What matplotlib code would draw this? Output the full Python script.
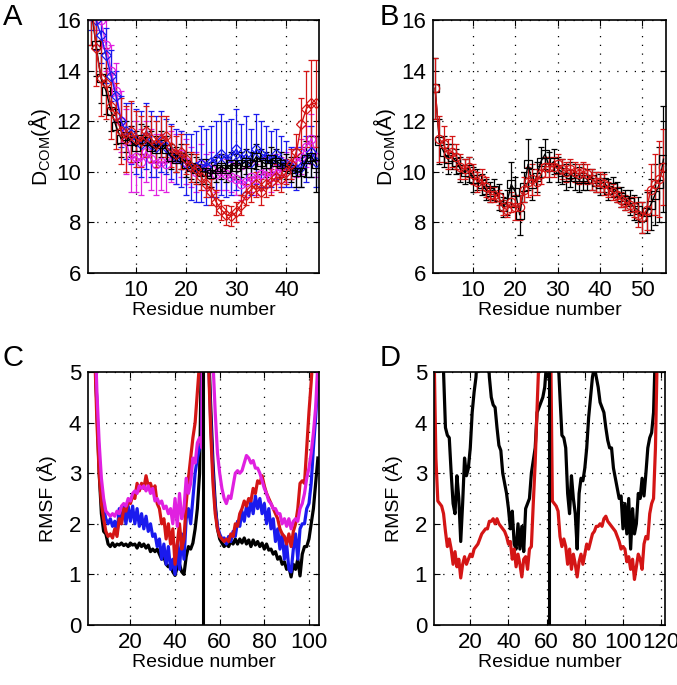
import numpy as np
import matplotlib
matplotlib.use("Agg")
import matplotlib.pyplot as plt

plt.rcParams.update({
    "font.family": ["Liberation Sans", "DejaVu Sans"],
    "mathtext.fontset": "custom",
    "mathtext.rm": "Liberation Sans",
    "font.size": 14,
    "axes.linewidth": 1.2,
})

RED, BLUE, MAG, BLK = "#d41515", "#1a1aee", "#e020e0", "black"

# ---- panel A: D_COM per residue, four runs (mean, err)
a_black = [16.5, 15.0, 13.7, 13.2, 12.4, 11.8, 11.3, 11.4, 11.2, 11.0,
           11.3, 11.2, 11.0, 10.9, 11.1, 10.9, 10.6, 10.5, 10.6, 10.3,
           10.2, 10.1, 10.0, 10.0, 9.9, 10.1, 10.2, 10.1, 10.3, 10.2,
           10.3, 10.4, 10.3, 10.6, 10.4, 10.3, 10.5, 10.4, 10.3, 10.2,
           10.1, 10.0, 10.0, 10.5, 10.6, 10.3]
a_black_err = [1.5, 1.2, 1.0, 0.9, 0.8, 0.7, 0.7, 0.6, 0.6, 0.6,
               0.6, 0.6, 0.6, 0.5, 0.5, 0.5, 0.5, 0.5, 0.5, 0.5,
               0.5, 0.5, 0.5, 0.5, 0.5, 0.5, 0.5, 0.5, 0.5, 0.5,
               0.5, 0.5, 0.5, 0.5, 0.5, 0.5, 0.5, 0.5, 0.5, 0.5,
               0.5, 0.6, 0.6, 0.7, 0.8, 1.1]
a_blue = [16.8, 16.0, 15.4, 14.6, 13.8, 13.0, 12.0, 11.6, 11.5, 11.2,
          11.1, 11.4, 11.1, 11.0, 11.2, 11.0, 10.8, 10.6, 10.5, 10.3,
          10.2, 10.2, 10.3, 10.2, 10.4, 10.5, 10.7, 10.5, 10.6, 10.9,
          10.5, 10.7, 10.4, 10.9, 10.7, 10.6, 10.5, 10.7, 10.4, 10.3,
          10.2, 10.1, 10.2, 10.5, 10.8, 10.4]
a_blue_err = [1.2, 1.2, 1.1, 1.1, 1.0, 1.0, 1.0, 1.1, 1.2, 1.3,
              1.3, 1.3, 1.3, 1.2, 1.2, 1.1, 1.1, 1.1, 1.1, 1.2,
              1.3, 1.4, 1.5, 1.5, 1.4, 1.5, 1.6, 1.5, 1.5, 1.6,
              1.4, 1.5, 1.3, 1.4, 1.3, 1.2, 1.1, 1.0, 1.0, 0.9,
              0.8, 0.8, 0.8, 0.9, 1.0, 1.0]
a_mag = [17.0, 16.6, 16.0, 15.0, 14.0, 13.2, 12.0, 11.2, 10.5, 10.6,
         10.4, 10.8, 10.5, 10.3, 10.4, 10.3, 10.6, 10.5, 10.7, 10.4,
         10.2, 10.0, 10.3, 10.0, 10.1, 9.9, 10.0, 9.9, 9.8, 9.7,
         9.5, 9.6, 9.8, 9.7, 9.9, 10.0, 9.8, 10.1, 10.0, 10.2,
         10.3, 10.4, 10.6, 11.0, 11.3, 10.6]
a_mag_err = [1.0, 1.0, 1.0, 1.0, 1.0, 1.1, 1.2, 1.3, 1.3, 1.4,
             1.3, 1.2, 1.2, 1.2, 1.1, 1.1, 1.0, 1.0, 0.9, 0.9,
             0.8, 0.8, 0.8, 0.7, 0.7, 0.7, 0.7, 0.6, 0.6, 0.6,
             0.6, 0.6, 0.6, 0.6, 0.6, 0.6, 0.6, 0.6, 0.6, 0.6,
             0.6, 0.6, 0.7, 0.8, 1.0, 0.8]
a_red = [17.0, 14.9, 13.7, 13.5, 12.6, 12.2, 11.6, 11.3, 11.6, 11.3,
         11.2, 11.6, 11.3, 11.1, 11.3, 11.4, 11.0, 10.7, 10.8, 10.5,
         10.2, 10.1, 9.8, 9.5, 9.2, 8.8, 8.5, 8.3, 8.25, 8.4,
         8.7, 9.1, 9.3, 9.5, 9.2, 9.5, 9.6, 9.8, 9.7, 10.0,
         10.3, 10.8, 11.9, 12.5, 12.7, 12.7]
a_red_err = [2.0, 1.5, 1.5, 1.4, 1.3, 1.3, 1.3, 1.3, 1.2, 1.1,
             1.0, 1.0, 0.9, 0.9, 0.9, 0.8, 0.8, 0.7, 0.7, 0.6,
             0.6, 0.6, 0.5, 0.5, 0.5, 0.5, 0.4, 0.4, 0.4, 0.4,
             0.4, 0.4, 0.5, 0.5, 0.5, 0.5, 0.5, 0.5, 0.5, 0.5,
             0.6, 0.7, 1.0, 1.5, 1.7, 1.7]

# ---- panel B: two runs
b_black = [13.3, 11.2, 10.8, 10.5, 10.6, 10.4, 10.1, 10.0, 10.1, 9.7,
           9.7, 9.5, 9.3, 9.2, 9.3, 9.0, 8.6, 8.8, 9.5, 9.2,
           8.3, 9.4, 10.3, 9.5, 9.8, 10.4, 10.7, 10.2, 10.4, 10.1,
           10.0, 9.8, 9.9, 9.8, 9.7, 9.8, 9.7, 9.7, 9.6, 9.5,
           9.6, 9.3, 9.4, 9.2, 9.0, 8.9, 8.8, 8.6, 8.5, 8.2,
           8.4, 8.7, 9.1, 9.5, 10.5]
b_black_err = [1.2, 0.9, 0.6, 0.6, 0.5, 0.5, 0.5, 0.5, 0.5, 0.5,
               0.4, 0.4, 0.4, 0.4, 0.4, 0.5, 0.4, 0.5, 0.9, 0.6,
               0.8, 0.6, 1.0, 0.6, 0.6, 0.6, 0.6, 0.6, 0.5, 0.5,
               0.5, 0.5, 0.5, 0.5, 0.5, 0.5, 0.4, 0.4, 0.4, 0.4,
               0.4, 0.4, 0.4, 0.4, 0.4, 0.4, 0.5, 0.5, 0.5, 0.6,
               0.8, 1.0, 1.2, 1.5, 2.1]
b_red = [13.3, 11.3, 11.1, 10.7, 10.8, 10.6, 10.2, 10.1, 10.2, 9.9,
         9.6, 9.7, 9.4, 9.1, 9.1, 9.0, 8.6, 8.5, 8.8, 8.6,
         8.6, 9.3, 9.6, 9.7, 9.6, 9.9, 10.2, 10.2, 10.2, 10.3,
         10.1, 10.0, 10.1, 10.0, 9.9, 10.0, 9.9, 9.7, 9.6, 9.6,
         9.5, 9.3, 9.2, 9.1, 8.9, 8.8, 8.7, 8.6, 8.3, 8.2,
         8.5, 9.3, 9.5, 9.7, 10.2]
b_red_err = [1.2, 0.9, 0.7, 0.6, 0.6, 0.5, 0.5, 0.4, 0.4, 0.4,
             0.4, 0.4, 0.4, 0.3, 0.3, 0.3, 0.3, 0.3, 0.4, 0.5,
             0.5, 0.5, 0.6, 0.6, 0.5, 0.4, 0.4, 0.4, 0.4, 0.4,
             0.4, 0.4, 0.4, 0.4, 0.4, 0.4, 0.4, 0.4, 0.4, 0.4,
             0.4, 0.3, 0.3, 0.3, 0.3, 0.3, 0.3, 0.4, 0.5, 0.6,
             0.8, 1.0, 1.2, 1.5, 1.5]

# ---- panel C: RMSF, two chains of 52 residues
c_black = [12, 9, 7, 5.6, 4.3, 3.0, 2.2, 1.85, 1.8, 1.6,
           1.55, 1.62, 1.55, 1.6, 1.58, 1.62, 1.57, 1.6, 1.55, 1.62,
           1.58, 1.6, 1.52, 1.62, 1.55, 1.6, 1.52, 1.58, 1.45, 1.5,
           1.45, 1.5, 1.4, 1.3, 1.35, 1.2, 1.15, 1.2, 1.05, 0.98,
           1.15, 1.2, 1.05, 1.0, 1.35, 1.55, 1.5, 1.62, 1.9, 2.3,
           3.0, 6.0,
           9, 7, 5.5, 4.3, 3.2, 2.4, 1.9, 1.7, 1.62, 1.55,
           1.6, 1.55, 1.65, 1.6, 1.7, 1.6, 1.7, 1.62, 1.72, 1.6,
           1.68, 1.55, 1.68, 1.58, 1.65, 1.55, 1.62, 1.5, 1.6, 1.48,
           1.5, 1.4, 1.45, 1.3, 1.35, 1.2, 1.25, 1.1, 1.15, 0.95,
           1.2, 1.1, 1.3, 0.97, 1.4, 1.55, 1.55, 1.7, 2.0, 2.3,
           2.8, 3.3]
c_blue = [12, 9, 7, 5.5, 4.3, 3.3, 2.6, 2.3, 2.1, 2.0,
          2.1, 1.95, 2.05, 1.8, 2.3, 2.0, 2.35, 2.0, 2.35, 2.05,
          2.35, 2.0, 2.3, 1.95, 2.2, 1.9, 2.15, 1.85, 2.0, 1.75,
          1.8, 1.55, 1.7, 1.3, 1.6, 1.2, 1.55, 1.1, 1.3, 1.0,
          1.6, 1.1, 1.8, 1.3, 2.1, 2.3, 2.0, 2.5, 3.0, 3.3,
          3.5, 3.6,
          9, 7, 5.3, 4.0, 3.0, 2.3, 1.95, 1.8, 1.7, 1.72,
          1.6, 1.75, 1.65, 1.85, 1.75, 2.05, 1.95, 2.25, 2.05, 2.35,
          2.15, 2.45, 2.2, 2.55, 2.3, 2.5, 2.2, 2.4, 2.0, 2.3,
          1.9, 2.1, 1.65, 1.9, 1.5, 1.8, 1.3, 1.6, 1.1, 1.05,
          1.5, 1.8, 1.3, 1.9, 2.0, 2.0, 2.3, 2.4, 2.8, 3.5,
          4.1, 4.8]
c_red = [12, 9, 7, 5.4, 4.0, 3.0, 2.4, 2.1, 1.85, 1.75,
         1.8, 1.72, 1.9, 1.75, 2.1, 2.0, 2.3, 2.25, 2.45, 2.4,
         2.55, 2.5, 2.8, 2.65, 2.8, 2.7, 2.95, 2.75, 2.8, 2.65,
         2.75, 2.4, 2.3, 2.0, 2.1, 1.7, 2.0, 1.6, 1.9, 1.2,
         1.6, 2.0, 1.5, 1.7, 2.4, 2.9, 3.3, 3.7, 4.0, 4.6,
         5.2, 6.0,
         9, 7, 5.2, 3.8, 2.8, 2.2, 1.9, 1.75, 1.7, 1.65,
         1.7, 1.65, 1.8, 1.75, 2.0, 1.95, 2.2, 2.3, 2.45, 2.35,
         2.5, 2.45, 2.7, 2.6, 2.85, 2.8, 2.95, 2.75, 2.6, 2.5,
         2.4, 2.3, 2.2, 2.1, 1.9, 1.8, 1.75, 1.6, 1.8, 1.55,
         1.85, 2.0, 2.3, 2.8, 2.85, 2.8, 3.5, 4.2, 4.8, 5.5,
         6.5, 8.0]
c_mag = [12, 10, 8, 6, 4.6, 3.6, 2.9, 2.5, 2.25, 2.2,
         2.15, 2.2, 2.15, 2.25, 2.2, 2.35, 2.4, 2.35, 2.5, 2.45,
         2.6, 2.65, 2.6, 2.75, 2.7, 2.75, 2.65, 2.75, 2.6, 2.7,
         2.45, 2.5, 2.4, 2.45, 2.3, 2.35, 2.2, 2.3, 2.0, 2.5,
         1.95, 2.6, 2.1, 2.3, 2.9, 2.6, 2.8, 3.3, 3.2, 3.6,
         3.7, 3.5,
         12, 10, 8, 6.5, 5.2, 4.2, 3.4, 3.0, 2.7, 2.5,
         2.4, 2.55, 2.5, 2.75, 3.0, 3.05, 3.0, 3.05, 3.2, 3.35,
         3.3, 3.2, 3.25, 3.1, 3.1, 3.0, 2.85, 2.7, 2.6, 2.45,
         2.4, 2.3, 2.3, 2.2, 2.2, 2.0, 2.1, 1.95, 2.1, 1.9,
         2.05, 2.1, 2.05, 2.3, 2.4, 2.6, 2.9, 3.1, 3.4, 3.8,
         4.3, 5.2]
c_split = 52.5

# ---- panel D: RMSF, two chains of 61 residues
d_black = [12, 10, 8.5, 7, 5.8, 5.0, 3.9, 3.75, 3.7, 3.0,
           2.4, 2.2, 2.95, 2.5, 1.65, 2.4, 3.3, 2.95, 3.1, 3.5,
           4.2, 4.6, 4.9, 5.6, 6.2, 6.5, 6.6, 6.2, 5.6, 4.9,
           4.5, 4.35, 4.3, 3.9, 3.55, 3.45, 3.0, 2.8, 2.6, 2.3,
           1.9, 2.25, 1.6, 1.5, 2.0, 1.5, 1.95, 1.45, 2.3, 2.4,
           2.5, 3.0, 3.25, 3.5, 4.2, 4.3, 4.4, 4.5, 4.7, 5.2,
           6.0,
           12, 10, 8, 6.5, 5.3, 4.5, 3.75, 3.7, 3.5, 2.6,
           2.2, 2.95, 2.5, 2.2, 1.5, 2.6, 2.9, 2.85, 3.1, 3.5,
           4.1, 4.5, 4.9, 5.1, 4.9, 4.7, 4.4, 4.3, 4.2, 3.9,
           3.65, 3.5, 3.5, 3.1, 2.9, 2.7, 2.5, 2.55, 1.9, 2.4,
           1.8, 2.5, 1.5, 2.3, 1.8, 2.0, 2.6, 2.5, 2.9, 2.55,
           3.0, 3.5, 3.7, 3.8, 4.2, 5.5, 7, 8.5, 10, 11,
           12]
d_red = [5.5, 3.3, 2.45, 2.4, 2.35, 2.2, 1.85, 1.55, 1.7, 1.5,
         1.2, 1.45, 1.15, 1.3, 0.93, 1.2, 1.35, 1.2, 1.3, 1.4,
         1.35, 1.5, 1.55, 1.6, 1.7, 1.8, 1.85, 1.9, 1.9, 2.05,
         2.05, 2.1, 2.0, 2.1, 2.0, 1.95, 1.9, 1.85, 1.75, 1.6,
         1.65, 1.3, 1.5, 1.15, 1.4, 1.2, 0.95, 1.3, 1.35, 1.1,
         1.5, 1.55, 2.4, 3.2, 4.3, 5.3, 6.5, 7.5, 8.5, 9.5,
         10.5,
         6, 2.45, 2.4, 2.35, 2.25, 1.75, 1.55, 1.7, 1.55, 1.2,
         1.5, 1.1, 1.4, 1.2, 0.95, 1.25, 1.4, 1.2, 1.4, 1.6,
         1.5, 1.65, 1.8, 1.85, 1.95, 1.95, 2.0, 1.95, 2.1, 2.15,
         2.05, 2.0, 1.95, 1.9, 1.85, 1.75, 1.65, 1.5, 1.55, 1.5,
         1.25, 1.35, 1.1, 1.3, 0.9, 1.15, 1.4, 1.3, 1.1, 1.6,
         1.75, 1.7, 2.2, 2.4, 2.5, 3.5, 5.5, 7, 8.5, 10,
         11]
d_split = 61


def res(y):
    return np.arange(1, len(y) + 1)


def style(ax, xlim, ylim, xticks, yticks):
    ax.set_xlim(*xlim); ax.set_ylim(*ylim)
    ax.set_xticks(xticks); ax.set_yticks(yticks)
    ax.grid(True, ls=(0, (1, 6)), color="k", lw=0.9)
    ax.tick_params(direction="in", length=4, width=0.8, top=True, right=True,
                   labelsize=16, pad=5)
    ax.set_xlabel("Residue number", fontsize=14, labelpad=1)


W, H = 677, 685
fig = plt.figure(figsize=(W / 100, H / 100), dpi=100)

def box(l, t, r, b):
    return [l / W, 1 - b / H, (r - l) / W, (b - t) / H]

axA = fig.add_axes(box(88, 20, 319, 273))
axB = fig.add_axes(box(433, 20, 666, 273))
axC = fig.add_axes(box(88, 372, 319, 625))
axD = fig.add_axes(box(434, 372, 665, 625))

eb = dict(mfc="none", ms=6, lw=1.0, elinewidth=0.9, capsize=2.2, capthick=0.9, mew=0.9)
axA.errorbar(res(a_mag), a_mag, yerr=a_mag_err, fmt="-o", color=MAG, **eb)
axA.errorbar(res(a_blue), a_blue, yerr=a_blue_err, fmt="-D", color=BLUE, **dict(eb, ms=5))
axA.errorbar(res(a_black), a_black, yerr=a_black_err, fmt="-s", color=BLK, **eb)
axA.errorbar(res(a_red), a_red, yerr=a_red_err, fmt="-D", color=RED, **dict(eb, ms=5.5))
style(axA, (0.4, 46.5), (6, 16), [10, 20, 30, 40], range(6, 17, 2))
axA.set_ylabel(r"D$_{\rm COM}$(Å)", fontsize=15, labelpad=2)

axB.errorbar(res(b_black), b_black, yerr=b_black_err, fmt="-s", color=BLK, **eb)
axB.errorbar(res(b_red), b_red, yerr=b_red_err, fmt="-o", color=RED, **eb)
style(axB, (0.5, 55.6), (6, 16), [10, 20, 30, 40, 50], range(6, 17, 2))
axB.set_ylabel(r"D$_{\rm COM}$(Å)", fontsize=15, labelpad=2)

for y, c in [(c_black, BLK), (c_blue, BLUE), (c_red, RED), (c_mag, MAG)]:
    axC.plot(res(y), y, color=c, lw=2.3)
axC.axvline(c_split, color="k", lw=2.2)
style(axC, (1, 104.5), (0, 5), [20, 40, 60, 80, 100], range(0, 6))
axC.set_ylabel("RMSF (Å)", fontsize=14, labelpad=8)

for y, c in [(d_black, BLK), (d_red, RED)]:
    axD.plot(res(y), y, color=c, lw=2.3)
axD.axvline(d_split, color="k", lw=2.2)
style(axD, (1, 122), (0, 5), [20, 40, 60, 80, 100, 120], range(0, 6))
axD.set_ylabel("RMSF (Å)", fontsize=14, labelpad=8)

for lab, x, y in [("A", 3, 3), ("B", 380, 3), ("C", 3, 344), ("D", 380, 344)]:
    fig.text(x / W, 1 - y / H, lab, fontsize=21, ha="left", va="top")

fig.savefig("out.png", dpi=100)
